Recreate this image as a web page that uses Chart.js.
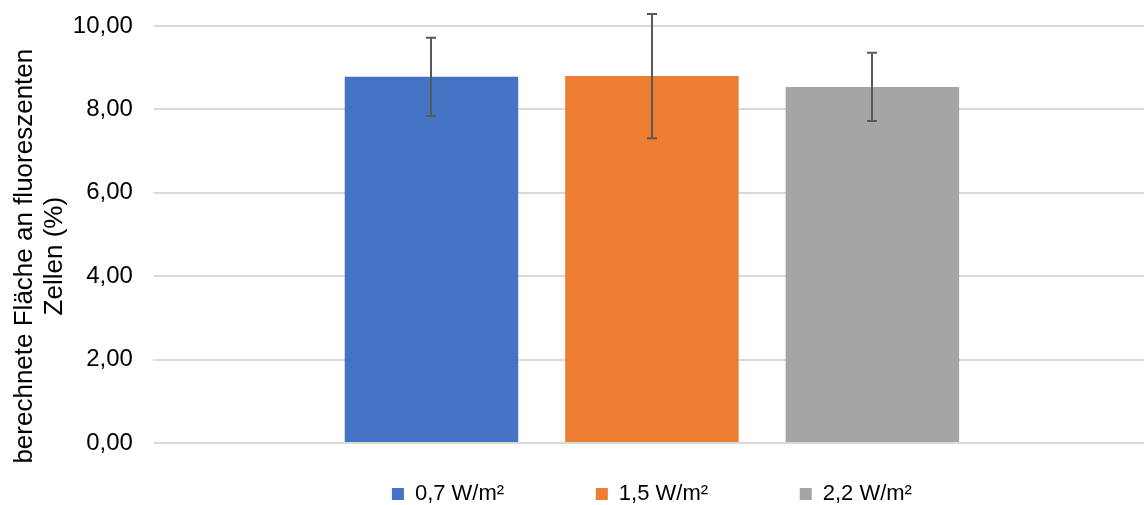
<!DOCTYPE html>
<html>
<head>
<meta charset="utf-8">
<script src="https://cdn.jsdelivr.net/npm/chart.js@4"></script>
<style>
  html, body { margin: 0; padding: 0; background: #fff; }
  #wrap { width: 1144px; height: 505px; position: relative; }
</style>
</head>
<body>
<div id="wrap"><canvas id="barChart"></canvas></div>
<script>
const categories = [""];
const seriesNames = ["0,7 W/m²", "1,5 W/m²", "2,2 W/m²"];
const seriesValues = [8.78, 8.80, 8.54];
const seriesErrors = [0.94, 1.49, 0.82];
const seriesColors = ["#4472c4", "#ed7d31", "#a5a5a5"];
const yTicks = [0, 2, 4, 6, 8, 10];

const FONT = "'Liberation Sans', Arial, sans-serif";
const fmt = (v) => v.toFixed(2).replace(".", ",");

// draws the error bars from the dataset's own scale
const errorBars = {
  id: "errorBars",
  afterDatasetsDraw(chart) {
    const ctx = chart.ctx;
    const y = chart.scales.y;
    ctx.save();
    ctx.strokeStyle = "#595959";
    ctx.lineWidth = 2;
    chart.data.datasets.forEach((ds, i) => {
      const meta = chart.getDatasetMeta(i);
      meta.data.forEach((bar, j) => {
        const v = ds.data[j];
        const e = ds.errors[j];
        const top = y.getPixelForValue(v + e);
        const bot = y.getPixelForValue(v - e);
        const x = Math.round(bar.x);
        ctx.beginPath();
        ctx.moveTo(x, top);
        ctx.lineTo(x, bot);
        ctx.moveTo(x - 5, top);
        ctx.lineTo(x + 5, top);
        ctx.moveTo(x - 5, bot);
        ctx.lineTo(x + 5, bot);
        ctx.stroke();
      });
    });
    ctx.restore();
  },
};

new Chart(document.getElementById("barChart"), {
  type: "bar",
  data: {
    labels: categories,
    datasets: seriesNames.map((name, i) => ({
      label: name,
      data: [seriesValues[i]],
      errors: [seriesErrors[i]],
      backgroundColor: seriesColors[i],
      categoryPercentage: 0.672,
      barPercentage: 0.787,
    })),
  },
  options: {
    responsive: true,
    maintainAspectRatio: false,
    animation: false,
    layout: { padding: { top: 0, right: 0, left: 10, bottom: -10 } },
    plugins: {
      tooltip: { enabled: false },
      legend: {
        position: "bottom",
        fullSize: false,
        labels: {
          boxWidth: 12,
          boxHeight: 12,
          padding: 0,
          color: "#000",
          font: { family: FONT, size: 22 },
          generateLabels(chart) {
            const n = chart.data.datasets.length;
            return chart.data.datasets.map((ds, i) => ({
              text: ds.label + (i < n - 1 ? "               " : ""),
              fillStyle: ds.backgroundColor,
              strokeStyle: ds.backgroundColor,
              lineWidth: 0,
              datasetIndex: i,
            }));
          },
        },
      },
    },
    scales: {
      x: {
        grid: { display: false },
        border: { display: false },
        ticks: { display: false },
        afterFit(axis) {
          axis.height += 32;
        },
      },
      y: {
        min: 0,
        max: 10,
        afterBuildTicks(axis) {
          axis.ticks = yTicks.map((v) => ({ value: v }));
        },
        afterFit(axis) {
          axis.paddingTop = 26;
        },
        grid: { color: "#d9d9d9", lineWidth: 2, drawTicks: true, tickLength: 6 },
        border: { display: false },
        ticks: {
          color: "#000",
          padding: 21,
          font: { family: FONT, size: 24 },
          callback: (v) => fmt(v),
        },
        title: {
          display: true,
          // trailing spaces push the centred text a little lower, as in the original
          text: ["berechnete Fläche an fluoreszenten      ", "Zellen (%)      "],
          color: "#000",
          padding: { top: 0, bottom: -18 },
          font: { family: FONT, size: 26, lineHeight: 1.15 },
        },
      },
    },
  },
  plugins: [errorBars],
});
</script>
</body>
</html>
